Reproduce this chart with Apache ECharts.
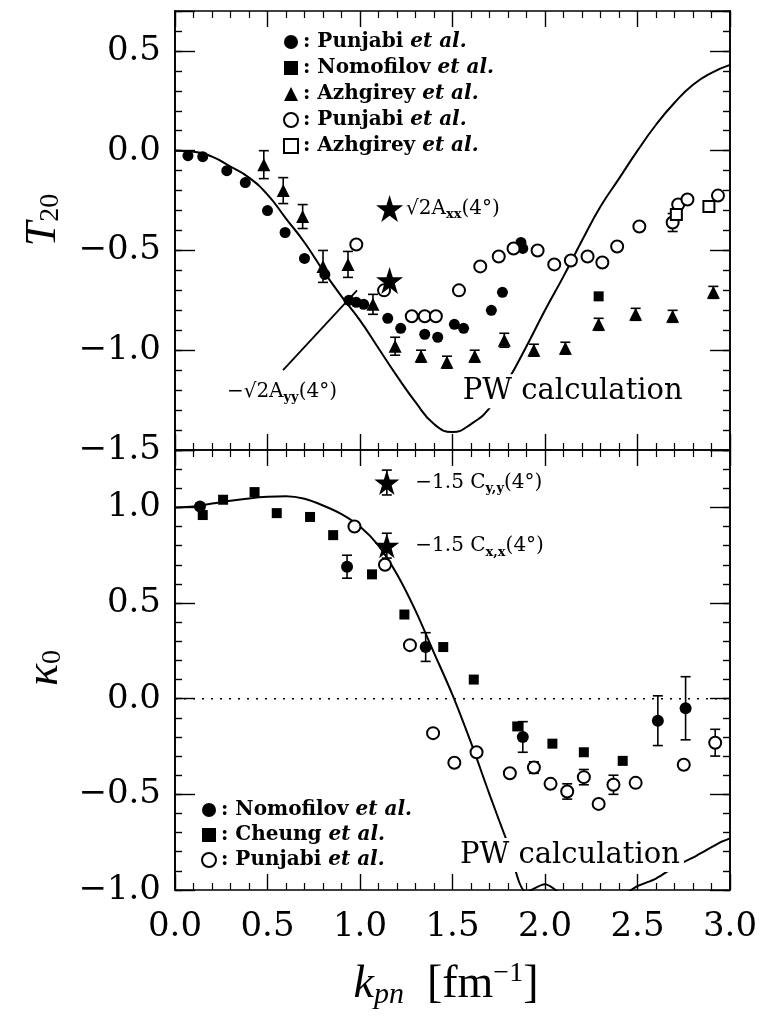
<!DOCTYPE html>
<html><head><meta charset="utf-8">
<script src="https://cdn.jsdelivr.net/npm/echarts@6/dist/echarts.min.js"></script>
<style>html,body{margin:0;padding:0;background:#fff}#c{width:761px;height:1019px}</style>
</head><body><div id="c"></div>
<script>
// ---------------- DATA ----------------
const xTickValues = [0, 0.5, 1.0, 1.5, 2.0, 2.5, 3.0];
// Top panel: T20 ; [x, y, err]
const t20PW = [[0,0],[0.1,-0.005],[0.2,-0.03],[0.3,-0.08],[0.4,-0.135],[0.5,-0.22],[0.6,-0.34],[0.7,-0.46],[0.8,-0.60],[0.9,-0.73],[1.0,-0.85],[1.1,-0.99],[1.2,-1.13],[1.3,-1.26],[1.4,-1.37],[1.5,-1.41],[1.6,-1.37],[1.7,-1.29],[1.8,-1.15],[1.9,-0.98],[2.0,-0.80],[2.1,-0.63],[2.2,-0.45],[2.3,-0.28],[2.4,-0.14],[2.5,0.0],[2.6,0.13],[2.7,0.24],[2.8,0.33],[2.9,0.39],[3.0,0.43]];
const t20PunjabiFilled = [[0.07,-0.025,0],[0.15,-0.03,0],[0.28,-0.10,0],[0.38,-0.16,0],[0.50,-0.30,0],[0.595,-0.41,0],[0.70,-0.54,0],[0.81,-0.62,0],[0.94,-0.75,0],[0.98,-0.76,0],[1.02,-0.77,0],[1.15,-0.84,0],[1.22,-0.89,0],[1.35,-0.92,0],[1.42,-0.935,0],[1.51,-0.87,0],[1.56,-0.89,0],[1.71,-0.80,0],[1.77,-0.71,0],[1.87,-0.46,0],[1.88,-0.49,0]];
const t20Nomofilov = [[2.29,-0.73,0]];
const t20Azhgirey = [[0.48,-0.07,0.07],[0.585,-0.20,0.065],[0.69,-0.33,0.06],[0.80,-0.58,0.08],[0.935,-0.57,0.065],[1.07,-0.77,0.05],[1.19,-0.98,0.045],[1.33,-1.03,0.03],[1.47,-1.06,0.03],[1.62,-1.03,0.03],[1.78,-0.95,0.035],[1.94,-1.0,0.03],[2.11,-0.99,0.03],[2.29,-0.87,0.03],[2.49,-0.82,0.03],[2.69,-0.83,0.03],[2.91,-0.71,0.03]];
const t20PunjabiOpen = [[0.98,-0.47,0],[1.13,-0.70,0],[1.28,-0.83,0],[1.35,-0.83,0],[1.41,-0.83,0],[1.535,-0.70,0],[1.65,-0.58,0],[1.75,-0.53,0],[1.83,-0.49,0],[1.96,-0.50,0],[2.05,-0.57,0],[2.14,-0.55,0],[2.23,-0.53,0],[2.31,-0.56,0],[2.39,-0.48,0],[2.51,-0.38,0],[2.69,-0.36,0.045],[2.72,-0.27,0],[2.77,-0.245,0],[2.935,-0.225,0]];
const t20AzhgireyOpen = [[2.71,-0.32,0],[2.886,-0.28,0]];
const t20Stars = [[1.16,-0.29,0],[1.16,-0.65,0]];
const t20Pointer = [[0.584,-1.10],[0.984,-0.70]];
// Bottom panel: kappa0
const k0PW = [[0,1.0],[0.1,1.005],[0.2,1.02],[0.3,1.035],[0.4,1.047],[0.5,1.055],[0.6,1.058],[0.7,1.045],[0.8,1.01],[0.9,0.965],[1.0,0.90],[1.1,0.80],[1.2,0.65],[1.3,0.46],[1.4,0.24],[1.5,0.02],[1.6,-0.23],[1.7,-0.50],[1.8,-0.76],[1.9,-1.01],[2.0,-0.97],[2.1,-1.03],[2.25,-1.09],[2.4,-1.04],[2.5,-0.98],[2.6,-0.94],[2.7,-0.88],[2.82,-0.82],[2.95,-0.75],[3.0,-0.73]];
const k0Nomofilov = [[0.135,1.005,0],[0.93,0.69,0.06],[1.355,0.27,0.075],[1.88,-0.20,0.08],[2.61,-0.115,0.13],[2.76,-0.05,0.165]];
const k0Cheung = [[0.15,0.96,0],[0.26,1.04,0],[0.43,1.08,0],[0.55,0.97,0],[0.73,0.95,0],[0.855,0.855,0],[1.065,0.65,0],[1.24,0.44,0],[1.45,0.27,0],[1.615,0.10,0],[1.85,-0.145,0],[2.04,-0.235,0],[2.21,-0.28,0],[2.42,-0.325,0]];
const k0Punjabi = [[0.97,0.90,0],[1.135,0.70,0],[1.27,0.28,0],[1.395,-0.18,0],[1.51,-0.335,0],[1.63,-0.28,0],[1.81,-0.39,0],[1.94,-0.36,0.03],[2.03,-0.445,0],[2.12,-0.485,0.04],[2.21,-0.41,0.04],[2.29,-0.55,0],[2.37,-0.45,0.05],[2.49,-0.44,0],[2.75,-0.345,0],[2.92,-0.23,0.07]];
const k0Stars = [[1.145,1.13,0.065],[1.145,0.80,0.065]];
const k0Zero = [[0,0],[3,0]];
// legend texts
const topLegend = {tP:'Punjabi', tN:'Nomofilov', tA:'Azhgirey', tPo:'Punjabi', tAo:'Azhgirey'};
const botLegend = {bN:'Nomofilov', bC:'Cheung', bP:'Punjabi'};

// ---------------- CHART ----------------
const INK = '#000';
const SERIF = 'DejaVu Serif';
const STAR = 'path://M50,0 L61.2,34.5 L97.6,34.5 L68.2,55.9 L79.4,90.5 L50,69.1 L20.6,90.5 L31.8,55.9 L2.4,34.5 L38.8,34.5 Z';
const fmtY = v => (Math.abs(v*2 - Math.round(v*2)) < 1e-6) ? ((v < -1e-9 ? '\u2212' : '') + Math.abs(v).toFixed(1)) : '';

function xAx(grid, pos, labels) {
  return {type:'value', gridIndex:grid, position:pos, min:0, max:3, interval:0.5,
    axisLine:{show:true, onZero:false, lineStyle:{color:INK, width:1.6}},
    axisTick:{show:true, inside:true, length:16, lineStyle:{color:INK, width:1.4}},
    minorTick:{show:true, splitNumber:5, length:7, lineStyle:{color:INK, width:1.2}},
    splitLine:{show:false}, minorSplitLine:{show:false},
    axisLabel:{show:labels, margin:20, fontFamily:SERIF, fontSize:34, color:INK, formatter:v => v.toFixed(1)}};
}
function yAx(grid, pos, min, max, interval, len, labels) {
  return {type:'value', gridIndex:grid, position:pos, min:min, max:max, interval:interval,
    axisLine:{show:true, onZero:false, lineStyle:{color:INK, width:1.6}},
    axisTick:{show:true, inside:true, length:len, lineStyle:{color:INK, width:1.4}},
    minorTick:{show:false}, splitLine:{show:false},
    axisLabel:{show:labels, margin:14, fontFamily:SERIF, fontSize:34, color:INK, formatter:fmtY, showMinLabel:true, showMaxLabel:true}};
}

function errRender(params, api) {
  const x = api.value(0), y = api.value(1), e = api.value(2);
  if (!e) return null;
  const a = api.coord([x, y + e]), b = api.coord([x, y - e]);
  const w = 5, st = {stroke:INK, lineWidth:1.6};
  return {type:'group', children:[
    {type:'line', shape:{x1:a[0], y1:a[1], x2:b[0], y2:b[1]}, style:st},
    {type:'line', shape:{x1:a[0]-w, y1:a[1], x2:a[0]+w, y2:a[1]}, style:st},
    {type:'line', shape:{x1:b[0]-w, y1:b[1], x2:b[0]+w, y2:b[1]}, style:st}
  ]};
}
function errSeries(data, xi, yi) {
  return {type:'custom', xAxisIndex:xi, yAxisIndex:yi, renderItem:errRender, clip:true, z:4,
    data:data.filter(d => d[2] > 0), silent:true, encode:{x:0, y:1}};
}
function sc(name, data, xi, yi, symbol, size, empty) {
  return {type:'scatter', name:name, xAxisIndex:xi, yAxisIndex:yi, data:data, symbol:symbol, symbolSize:size, z:5,
    itemStyle: empty ? {color:INK, borderColor:INK, borderWidth:1.6, opacity:1} : {color:INK, opacity:1},
    emphasis:{disabled:true}, silent:true};
}
const annoRich = {
  a:{fontFamily:SERIF, fontSize:20, color:INK, lineHeight:26},
  s:{fontFamily:SERIF, fontSize:13, fontWeight:'bold', color:INK, lineHeight:14, verticalAlign:'bottom'},
  p:{fontFamily:SERIF, fontSize:29, color:INK, lineHeight:34}
};
const legRich = {
  n:{fontFamily:SERIF, fontWeight:'bold', fontSize:20, color:INK, lineHeight:22},
  i:{fontFamily:SERIF, fontWeight:'bold', fontStyle:'italic', fontSize:20, color:INK, lineHeight:22}
};

const option = {
  animation:false,
  backgroundColor:'#fff',
  grid:[
    {left:175, width:555, top:11, height:439, containLabel:false},
    {left:175, width:555, top:450, height:440, containLabel:false}
  ],
  xAxis:[xAx(0,'bottom',false), xAx(0,'top',false), xAx(1,'bottom',true), xAx(1,'top',false)],
  yAxis:[
    yAx(0,'left',-1.5,0.7,0.5,20,true), yAx(0,'left',-1.5,0.7,0.1,7,false),
    yAx(0,'right',-1.5,0.7,0.5,20,false), yAx(0,'right',-1.5,0.7,0.1,7,false),
    yAx(1,'left',-1.0,1.3,0.5,20,true), yAx(1,'left',-1.0,1.3,0.1,7,false),
    yAx(1,'right',-1.0,1.3,0.5,20,false), yAx(1,'right',-1.0,1.3,0.1,7,false)
  ],
  legend:[
    {data:['tP','tN','tA','tPo','tAo'], orient:'vertical', left:278, top:27, itemWidth:14, itemHeight:14, itemGap:6, selectedMode:false,
     formatter:n => '{n|: ' + topLegend[n] + ' }{i|et al.}', textStyle:{rich:legRich}},
    {data:['bN','bC','bP'], orient:'vertical', left:196, top:795, itemWidth:14, itemHeight:14, itemGap:5, selectedMode:false,
     formatter:n => '{n|: ' + botLegend[n] + ' }{i|et al.}', textStyle:{rich:legRich}}
  ],
  series:[
    // top panel
    {type:'line', xAxisIndex:0, yAxisIndex:0, data:t20PW, smooth:true, showSymbol:false, symbol:'none', lineStyle:{color:INK, width:2}, z:2, silent:true},
    {type:'line', xAxisIndex:0, yAxisIndex:0, data:t20Pointer, showSymbol:false, symbol:'none', lineStyle:{color:INK, width:1.8}, z:2, silent:true},
    errSeries(t20Azhgirey.concat(t20PunjabiOpen), 0, 0),
    sc('tP', t20PunjabiFilled, 0, 0, 'circle', 11, false),
    sc('tN', t20Nomofilov, 0, 0, 'rect', 10, false),
    sc('tA', t20Azhgirey, 0, 0, 'triangle', 13, false),
    sc('tPo', t20PunjabiOpen, 0, 0, 'emptyCircle', 12, true),
    sc('tAo', t20AzhgireyOpen, 0, 0, 'emptyRect', 11, true),
    {type:'scatter', xAxisIndex:0, yAxisIndex:0, symbol:STAR, symbolSize:27, itemStyle:{color:INK, opacity:1}, z:6, silent:true,
     data:[
       {value:t20Stars[0], label:{show:true, position:'right', distance:3, color:INK, formatter:'{a|\u221A2A}{s|xx}{a|(4\u00B0)}', rich:annoRich}},
       {value:t20Stars[1]}
     ]},
    {type:'scatter', xAxisIndex:0, yAxisIndex:0, symbolSize:0, z:10, silent:true, itemStyle:{opacity:1},
     data:[
       {value:[0.578,-1.206], label:{show:true, position:'inside', color:INK, formatter:'{a|\u2212\u221A2A}{s|yy}{a|(4\u00B0)}', rich:annoRich}},
       {value:[2.15,-1.206], label:{show:true, position:'inside', color:INK, formatter:'{p|PW calculation}', rich:annoRich, backgroundColor:'#fff', padding:[0,4]}}
     ]},
    // bottom panel
    {type:'line', xAxisIndex:2, yAxisIndex:4, data:k0Zero, showSymbol:false, symbol:'none', lineStyle:{color:INK, width:1.6, type:[2,7]}, z:1, silent:true},
    {type:'line', xAxisIndex:2, yAxisIndex:4, data:k0PW, smooth:0.3, showSymbol:false, symbol:'none', lineStyle:{color:INK, width:2}, z:2, silent:true},
    errSeries(k0Nomofilov.concat(k0Punjabi), 2, 4),
    sc('bN', k0Nomofilov, 2, 4, 'circle', 12, false),
    sc('bC', k0Cheung, 2, 4, 'rect', 10, false),
    sc('bP', k0Punjabi, 2, 4, 'emptyCircle', 12, true),
    {type:'scatter', xAxisIndex:2, yAxisIndex:4, symbol:STAR, symbolSize:25, itemStyle:{color:INK, opacity:1}, z:6, silent:true,
     data:[
       {value:k0Stars[0], label:{show:true, position:'right', distance:16, color:INK, formatter:'{a|\u22121.5 C}{s|y,y}{a|(4\u00B0)}', rich:annoRich}},
       {value:k0Stars[1], label:{show:true, position:'right', distance:16, color:INK, formatter:'{a|\u22121.5 C}{s|x,x}{a|(4\u00B0)}', rich:annoRich}}
     ]},
    errSeries(k0Stars, 2, 4),
    {type:'scatter', xAxisIndex:2, yAxisIndex:4, symbolSize:0, z:10, silent:true, itemStyle:{opacity:1},
     data:[
       {value:[2.135,-0.817], label:{show:true, position:'inside', color:INK, formatter:'{p|PW calculation}', rich:annoRich, backgroundColor:'#fff', padding:[0,4]}}
     ]}
  ],
  graphic:[
    {type:'text', x:43, y:220, rotation:Math.PI/2, z:20,
     style:{text:'{t|T}{s|20}', align:'center', verticalAlign:'middle',
       rich:{t:{fontFamily:'Liberation Serif', fontStyle:'italic', fontSize:44, lineHeight:44, fill:INK},
             s:{fontFamily:'Liberation Serif', fontSize:28, lineHeight:22, verticalAlign:'bottom', fill:INK}}}},
    {type:'text', x:45, y:668, rotation:Math.PI/2, z:20,
     style:{text:'{t|\u03BA}{s|0}', align:'center', verticalAlign:'middle',
       rich:{t:{fontFamily:'Liberation Serif', fontStyle:'italic', fontSize:46, lineHeight:44, fill:INK},
             s:{fontFamily:'Liberation Serif', fontSize:28, lineHeight:22, verticalAlign:'bottom', fill:INK}}}},
    {type:'text', x:446, y:985, z:20,
     style:{text:'{k|k}{s|pn}{m|  [fm}{p|\u22121}{m|]}', align:'center', verticalAlign:'middle',
       rich:{k:{fontFamily:'Liberation Serif', fontStyle:'italic', fontSize:46, lineHeight:50, fill:INK},
             s:{fontFamily:'Liberation Serif', fontStyle:'italic', fontSize:30, lineHeight:24, verticalAlign:'bottom', fill:INK},
             m:{fontFamily:'Liberation Serif', fontSize:46, lineHeight:50, fill:INK},
             p:{fontFamily:'Liberation Serif', fontSize:28, lineHeight:26, verticalAlign:'top', fill:INK}}}}
  ]
};
const chart = echarts.init(document.getElementById('c'), null, {renderer:'canvas'});
chart.setOption(option);
</script>
</body></html>
